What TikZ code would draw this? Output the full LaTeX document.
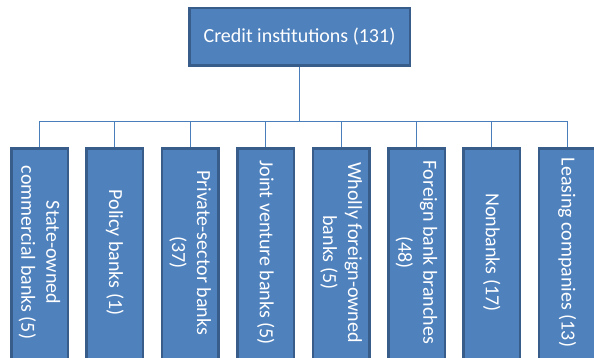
\documentclass[tikz,border=0pt]{standalone}
\usepackage{fontspec}
\setmainfont{Carlito}
\definecolor{boxfill}{HTML}{4F81BD}
\definecolor{boxline}{HTML}{385D8A}
\definecolor{connline}{HTML}{4A7EBB}
\begin{document}
\begin{tikzpicture}[x=1pt,y=-1pt,
  topbox/.style={draw=boxline,fill=boxfill,line width=2.5pt,minimum width=220.5pt,minimum height=57.5pt,inner sep=0pt,text=white,font=\fontsize{20}{25}\selectfont},
  subbox/.style={draw=boxline,fill=boxfill,line width=2.5pt,minimum width=56.5pt,minimum height=212pt,inner sep=0pt},
  subtext/.style={rotate=-90,text=white,align=center,inner sep=0pt,font=\fontsize{20}{25}\selectfont},
  conn/.style={draw=connline,line width=1pt}]
\clip (0,0) rectangle (594,358);
\useasboundingbox (0,0) rectangle (594,358);
\node[topbox] (top) at (299.5,37) {Credit institutions (131)};
\coordinate (bus) at (0,122);
\foreach \i/\txt [count=\k from 0] in {
  b1/{State-owned\\commercial banks (5)},
  b2/{Policy banks (1)},
  b3/{Private-sector banks\\(37)},
  b4/{Joint venture banks (5)},
  b5/{Wholly foreign-owned\\banks (5)},
  b6/{Foreign bank branches\\(48)},
  b7/{Nonbanks (17)},
  b8/{Leasing companies (13)}}{
  \node[subbox] (\i) at ({39.5+75.4*\k},254.5) {};
  \node[subtext] (\i t) at ({39.5+75.4*\k},252.5) {\txt};
  \draw[conn] (top.south) -- (top.south |- bus) -| (\i.north);
}
\end{tikzpicture}
\end{document}
